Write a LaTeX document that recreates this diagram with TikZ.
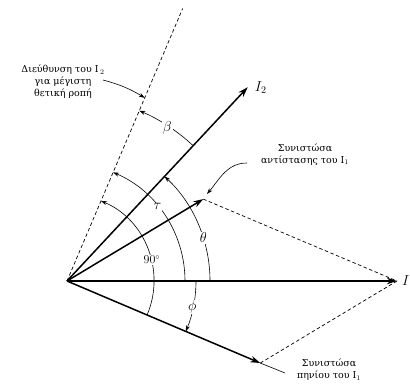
\documentclass[tikz,border=0pt]{standalone}
\usepackage{fontspec}
\setmainfont{DejaVu Serif}
\usepackage{amsmath,amssymb}
\usepackage{tikz}
\usetikzlibrary{calc,arrows.meta}

\tikzset{
  vec/.style={line width=1.5pt, -{Stealth[length=10pt,width=6.5pt]}},
  arcline/.style={line width=0.6pt, -{Stealth[length=6pt,width=4pt]}},
  parline/.style={line width=0.7pt, dash pattern=on 3.5pt off 2.5pt},
  ang/.style={fill=white, inner sep=1pt, font=\Large},
  note/.style={font=\fontsize{9.5}{12}\selectfont, align=center, inner sep=1pt},
}

\begin{document}
\begin{tikzpicture}[x=1pt, y=1pt, >=Stealth]
    \useasboundingbox (-67,-104) rectangle (343,281);

    % Origin and vectors
    \coordinate (O) at (0,0);
    \coordinate (I) at (330,0);
    \coordinate (I2) at (47:265);
    \coordinate (IR) at (31:159);
    \coordinate (IX) at (-23:210);
    \coordinate (D) at (67:296);

    % Direction of I2 for maximum torque
    \draw[parline] (O) -- (D);

    % Parallelogram sides
    \draw[parline] (IR) -- (I);
    \draw[parline] (IX) -- (I);

    % Current vectors
    \draw[vec] (O) -- (I) node[right=1pt] {\Large $I$};
    \draw[vec] (O) -- (I2) node[right=3pt] {\Large $I_2$};
    \draw[vec] (O) -- (IR);
    \draw[vec] (O) -- (IX);

    % Angle beta
    \draw[arcline] (47:185) arc[start angle=47, end angle=67, radius=185];
    \node[ang] (beta) at (56.8:183) {$\beta$};

    % Angle theta
    \draw[arcline] (0:143) arc[start angle=0, end angle=47, radius=143];
    \node[ang] (theta) at (17.5:143) {$\theta$};

    % Angle tau
    \draw[arcline] (0:118) arc[start angle=0, end angle=67, radius=118];
    \node[ang] (tau) at (39.4:117) {$\tau$};

    % Right angle
    \draw[arcline] (-23:87) arc[start angle=-23, end angle=67, radius=87];
    \node[ang, font=\large] (right) at (14:87.5) {$90^\circ$};

    % Angle phi
    \draw[arcline] (0:129) arc[start angle=0, end angle=-23, radius=129];
    \node[ang] (phi) at (-11.7:128) {$\phi$};

    % Notes
    \node[note] (lblD) at (-4,199) {Διεύθυνση του I$_{\,2}$\\για μέγιστη\\θετική ροπή};
    \coordinate (dStart) at (36,201);
    \coordinate (dEnd) at (67:199);
    \draw[arcline] (dStart) to[bend left=8] (dEnd);

    \node[note] (lblR) at (238,126.5) {Συνιστώσα\\αντίστασης του I$_1$};
    \coordinate (rStart) at (180,118);
    \coordinate (rEnd) at (140,87);
    \draw[arcline] (rStart) to[out=180, in=50] (rEnd);

    \node[note] (lblX) at (262,-89) {Συνιστώσα\\πηνίου του I$_1$};
    \coordinate (xStart) at (218,-92);
    \draw[line width=0.6pt] (xStart) -- (IX);
\end{tikzpicture}
\end{document}
